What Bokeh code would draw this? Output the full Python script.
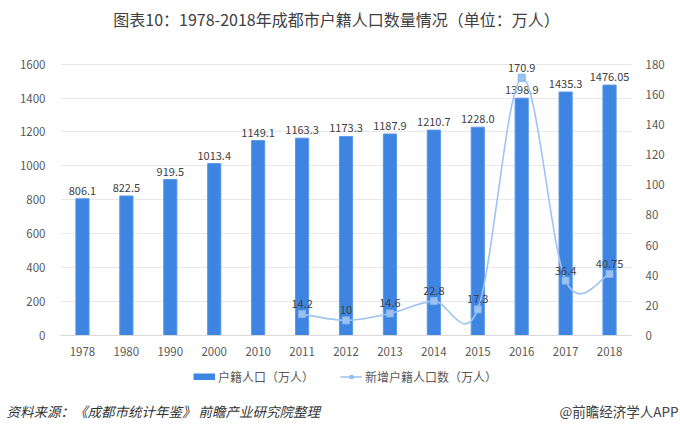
from bokeh.plotting import figure
from bokeh.layouts import column
from bokeh.models import (FactorRange, Range1d, LinearAxis, Legend, LegendItem, Label,
                          ColumnDataSource, FixedTicker)
from bokeh.embed import file_html
from bokeh.resources import INLINE
from bokeh.core.properties import value

years = ["1978", "1980", "1990", "2000", "2010", "2011", "2012", "2013", "2014",
         "2015", "2016", "2017", "2018"]
population = [806.1, 822.5, 919.5, 1013.4, 1149.1, 1163.3, 1173.3, 1187.9, 1210.7,
              1228.0, 1398.9, 1435.3, 1476.05]
population_labels = ["806.1", "822.5", "919.5", "1013.4", "1149.1", "1163.3", "1173.3",
                     "1187.9", "1210.7", "1228.0", "1398.9", "1435.3", "1476.05"]
new_years = ["2011", "2012", "2013", "2014", "2015", "2016", "2017", "2018"]
new_population = [14.2, 10, 14.6, 22.8, 17.3, 170.9, 36.4, 40.75]
new_labels = ["14.2", "10", "14.6", "22.8", "17.3", "170.9", "36.4", "40.75"]
left_ticks = [0, 200, 400, 600, 800, 1000, 1200, 1400, 1600]
right_ticks = [0, 20, 40, 60, 80, 100, 120, 140, 160, 180]

TITLE = "图表10：1978-2018年成都市户籍人口数量情况（单位：万人）"
SOURCE = "资料来源：《成都市统计年鉴》  前瞻产业研究院整理"
CREDIT = "@前瞻经济学人APP"
BAR_NAME = "户籍人口（万人）"
LINE_NAME = "新增户籍人口数（万人）"

FONT = "Noto Sans CJK SC"
BAR = "#3d85e0"
BAR_EDGE = "#5a98e6"
LINE = "#9fc4f4"
MK_FILL = "#9cc2f3"
MK_EDGE = "#86b2ec"
W = 680


def blank(h):
    f = figure(width=W, height=h, x_range=Range1d(0, W), y_range=Range1d(0, h),
               output_backend="svg", toolbar_location=None, min_border=0,
               x_axis_location=None, y_axis_location=None)
    f.grid.visible = False
    f.outline_line_color = None
    return f


# ---- title strip
top = blank(36)
top.add_layout(Label(x=336, y=18, text=TITLE, text_font=FONT, text_font_size="16px",
                     text_color="#404040", text_align="center", text_baseline="middle"))

# ---- main chart
p = figure(width=W, height=329, x_range=FactorRange(*years, range_padding=0),
           y_range=Range1d(0, 1680), output_backend="svg", toolbar_location=None,
           min_border_left=60, min_border_right=49, min_border_top=14, min_border_bottom=30)
p.extra_y_ranges = {"right": Range1d(0, 189)}
p.outline_line_color = None

p.yaxis.ticker = FixedTicker(ticks=left_ticks)
ax_r = LinearAxis(y_range_name="right", ticker=FixedTicker(ticks=right_ticks))
p.add_layout(ax_r, "right")
for ax in p.yaxis:
    ax.axis_line_color = None
    ax.major_tick_line_color = None
    ax.minor_tick_line_color = None
    ax.major_label_text_font = FONT
    ax.major_label_text_font_size = "11.5px"
    ax.major_label_text_color = "#595959"
p.yaxis[0].major_label_standoff = 9
ax_r.major_label_standoff = 8
p.xaxis.axis_line_color = "#d9d9d9"
p.xaxis.major_tick_line_color = None
p.xaxis.major_label_text_font = FONT
p.xaxis.major_label_text_font_size = "11.5px"
p.xaxis.major_label_text_color = "#595959"
p.xaxis.major_label_standoff = 5
p.xgrid.grid_line_color = None
p.ygrid.grid_line_color = "#e8e8e8"

src = ColumnDataSource(dict(x=years, y=population, lab=population_labels))
p.vbar(x="x", top="y", width=0.3, source=src, fill_color=BAR, line_color=BAR_EDGE, line_width=1)
p.text(x="x", y="y", text="lab", source=src, text_font=value(FONT), text_font_size="11px",
       text_color="#404040", text_align="center", text_baseline="bottom", y_offset=-4)

# smooth line (Catmull-Rom -> cubic bezier), synthetic categorical coords
xs = [years.index(y) + 0.5 for y in new_years]
ys = new_population
n = len(xs)
bz = dict(x0=[], y0=[], x1=[], y1=[], cx0=[], cy0=[], cx1=[], cy1=[])
for i in range(n - 1):
    xm, ym = (xs[i - 1], ys[i - 1]) if i > 0 else (xs[i], ys[i])
    xp, yp = (xs[i + 2], ys[i + 2]) if i + 2 < n else (xs[i + 1], ys[i + 1])
    bz["x0"].append(xs[i]); bz["y0"].append(ys[i])
    bz["x1"].append(xs[i + 1]); bz["y1"].append(ys[i + 1])
    bz["cx0"].append(xs[i] + (xs[i + 1] - xm) / 6); bz["cy0"].append(ys[i] + (ys[i + 1] - ym) / 6)
    bz["cx1"].append(xs[i + 1] - (xp - xs[i]) / 6); bz["cy1"].append(ys[i + 1] - (yp - ys[i]) / 6)
p.bezier(source=ColumnDataSource(bz), x0="x0", y0="y0", x1="x1", y1="y1", cx0="cx0", cy0="cy0",
         cx1="cx1", cy1="cy1", line_color=LINE, line_width=1.6, y_range_name="right")

lsrc = ColumnDataSource(dict(x=new_years, y=new_population, lab=new_labels))
p.scatter(x="x", y="y", source=lsrc, marker="square", size=7, fill_color=MK_FILL,
          line_color=MK_EDGE, y_range_name="right")
p.text(x="x", y="y", text="lab", source=lsrc, text_font=value(FONT), text_font_size="11px",
       text_color="#404040", text_align="center", text_baseline="bottom", y_offset=-6,
       y_range_name="right")

# ---- legend + source strip (legend sample glyphs sit off-canvas)
bot = blank(64)
off = [-1000]
lb = bot.line(x=off, y=off, line_color=BAR, line_width=7, line_cap="butt")
ll = bot.line(x=off, y=off, line_color=LINE, line_width=1.6)
lm = bot.scatter(x=off, y=off, marker="square", size=7, fill_color=MK_FILL, line_color=MK_EDGE)
legend = Legend(items=[LegendItem(label=BAR_NAME, renderers=[lb]),
                       LegendItem(label=LINE_NAME, renderers=[ll, lm])],
                orientation="horizontal", location=(193, 44), border_line_color=None,
                label_text_font=FONT, label_text_font_size="12px", label_text_color="#595959",
                glyph_width=22, glyph_height=7, label_standoff=3, spacing=26, padding=0,
                margin=0, background_fill_alpha=0)
bot.add_layout(legend)
bot.add_layout(Label(x=6, y=19, text=SOURCE, text_font=FONT, text_font_size="13.5px",
                     text_font_style="italic", text_color="#333333",
                     text_align="left", text_baseline="middle"))
bot.add_layout(Label(x=678, y=19, text=CREDIT, text_font=FONT, text_font_size="13.5px",
                     text_color="#404040", text_align="right", text_baseline="middle"))

layout = column(column(top), column(p), column(bot), spacing=0)
open("out.html", "w").write(file_html(layout, INLINE))
